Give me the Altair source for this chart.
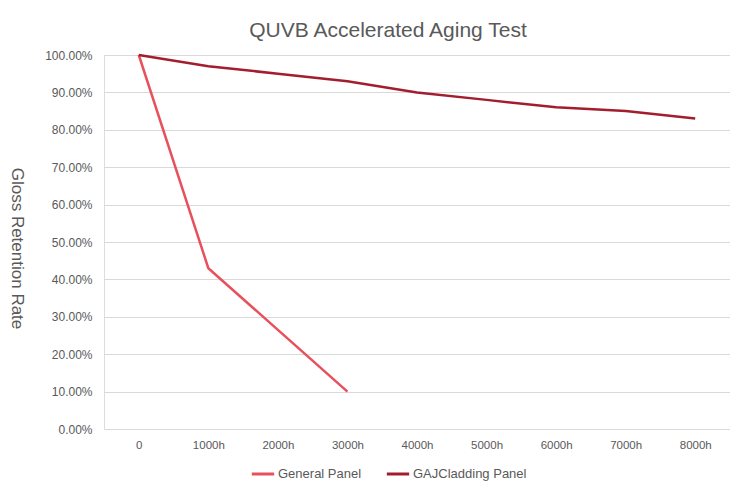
import altair as alt
import pandas as pd

hours = ["0", "1000h", "2000h", "3000h", "4000h", "5000h", "6000h", "7000h", "8000h"]
general_panel = [100, 43, 26.5, 10]
gaj_panel = [100, 97, 95, 93, 90, 88, 86, 85, 83]
series_names = ["General Panel", "GAJCladding Panel"]
y_ticks = [0, 0.1, 0.2, 0.3, 0.4, 0.5, 0.6, 0.7, 0.8, 0.9, 1.0]

rows = []
for h, v in zip(hours, general_panel):
    rows.append({"hour": h, "value": v / 100, "series": series_names[0]})
for h, v in zip(hours, gaj_panel):
    rows.append({"hour": h, "value": v / 100, "series": series_names[1]})
df = pd.DataFrame(rows)

chart = alt.Chart(df).mark_line(strokeWidth=2.5).encode(
    x=alt.X("hour:N", sort=hours, title=None,
            scale=alt.Scale(domain=hours),
            axis=alt.Axis(labelAngle=0, labelColor="#595959", labelFontSize=11.5,
                          labelFont="Liberation Sans", domain=False, ticks=False,
                          labelPadding=10, grid=False)),
    y=alt.Y("value:Q", title="Gloss Retention Rate",
            scale=alt.Scale(domain=[0, 1], nice=False),
            axis=alt.Axis(values=y_ticks, format=".2%", labelColor="#595959",
                          labelFontSize=12, labelFont="Liberation Sans",
                          domain=False, ticks=False, labelPadding=12,
                          gridColor="#d9d9d9", gridWidth=1,
                          titleAngle=90, titleX=-97, titleY=193,
                          titleFontSize=17, titleFontWeight="normal",
                          titleColor="#595959", titleFont="Liberation Sans")),
    color=alt.Color("series:N", sort=series_names,
                    scale=alt.Scale(domain=series_names, range=["#e8505b", "#a31d2e"]),
                    legend=alt.Legend(title=None, orient="none", direction="horizontal",
                                      legendX=146, legendY=406,
                                      symbolType="stroke", symbolStrokeWidth=3,
                                      symbolSize=500, labelFontSize=13,
                                      labelColor="#595959", labelFont="Liberation Sans",
                                      columnPadding=18, labelOffset=2)),
).properties(
    width=626,
    height=374,
    title=alt.TitleParams("QUVB Accelerated Aging Test", fontSize=21,
                          fontWeight="normal", color="#595959",
                          font="Liberation Sans", anchor="middle", dx=-29, offset=8),
    autosize=alt.AutoSizeParams(type="none"),
    padding={"left": 96, "top": 47, "right": 0, "bottom": 52},
).configure_view(stroke=None).configure(background="white")

chart.save("out.html", embed_options={"renderer": "svg", "actions": False})
